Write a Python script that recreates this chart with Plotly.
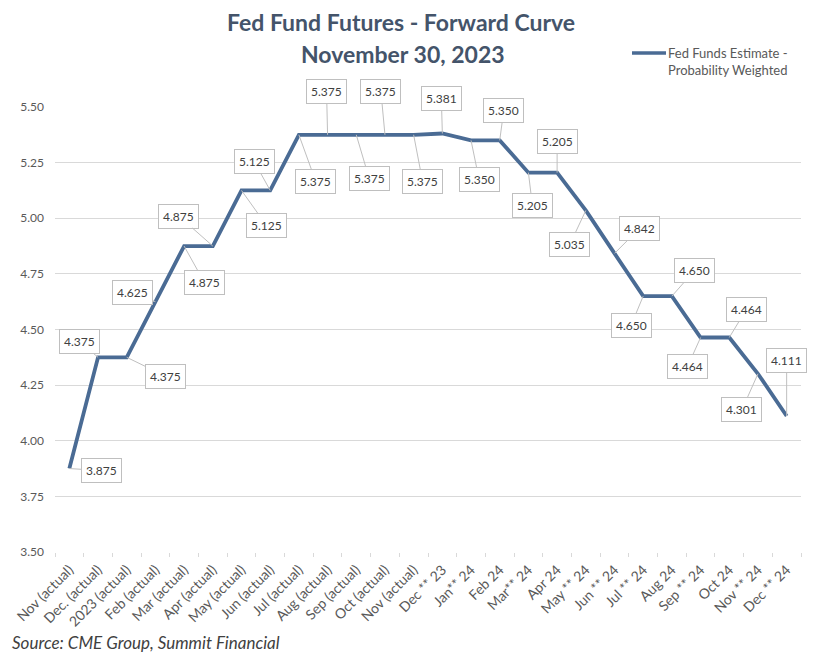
import plotly.graph_objects as go

categories = ["Nov (actual)", "Dec. (actual)", "2023 (actual)", "Feb (actual)", "Mar (actual)",
              "Apr (actual)", "May (actual)", "Jun (actual)", "Jul (actual)", "Aug (actual)",
              "Sep (actual)", "Oct (actual)", "Nov (actual)", "Dec ** 23", "Jan** 24", "Feb 24",
              "Mar** 24", "Apr 24", "May ** 24", "Jun ** 24", "Jul ** 24", "Aug 24", "Sep ** 24",
              "Oct 24", "Nov ** 24", "Dec ** 24"]
values = [3.875, 4.375, 4.375, 4.625, 4.875, 4.875, 5.125, 5.125, 5.375, 5.375,
          5.375, 5.375, 5.375, 5.381, 5.350, 5.350, 5.205, 5.205, 5.035, 4.842,
          4.650, 4.650, 4.464, 4.464, 4.301, 4.111]
y_ticks = [3.50, 3.75, 4.00, 4.25, 4.50, 4.75, 5.00, 5.25, 5.50]

# label box offsets (pixels) relative to each point
label_dx = [32, -19, 39, -23, 20, -34, 25, -16, 17, -1, 13, -4, 9, -1, 8, 4, 4, 0, -16, 25, -12, 23, -13, 17, -16, 0]
label_dy = [2, -16, 19, -9, 36, -30, 35, -29, 47, -43, 44, -43, 47, -35, 39, -30, 33, -31, 34, -25, 29, -26, 29, -28, 36, -56]

FONT = "Lato"
LINE_COLOR = "#4a6b94"
x_idx = list(range(len(categories)))

fig = go.Figure()
fig.add_trace(go.Scatter(
    x=x_idx, y=values, mode="lines",
    line=dict(color=LINE_COLOR, width=3.8),
    name="Fed Funds Estimate - Probability Weighted",
    showlegend=False, hoverinfo="skip",
))

annotations = []
for i, v in enumerate(values):
    annotations.append(dict(
        x=i, y=v, xref="x", yref="y", text=f"{v:.3f}",
        showarrow=True, arrowhead=0, arrowwidth=1, arrowcolor="#bfbfbf",
        ax=label_dx[i], ay=label_dy[i], standoff=0,
        bordercolor="#bfbfbf", borderwidth=1, borderpad=4, bgcolor="white",
        font=dict(family=FONT, size=12, color="#404040"),
    ))

# plot area: x 55..801, y 107..552 (px)
def px_x(X):
    return (X - 55) / 746.0

def px_y(Y):
    return (552 - Y) / 445.0

annotations += [
    dict(xref="paper", yref="paper", x=px_x(401), y=px_y(22), text="<b>Fed Fund Futures - Forward Curve</b>",
         showarrow=False, xanchor="center", yanchor="middle",
         font=dict(family=FONT, size=23, color="#44546a")),
    dict(xref="paper", yref="paper", x=px_x(403), y=px_y(54), text="<b>November 30, 2023</b>",
         showarrow=False, xanchor="center", yanchor="middle",
         font=dict(family=FONT, size=23, color="#44546a")),
    dict(xref="paper", yref="paper", x=px_x(666), y=px_y(53), text="Fed Funds Estimate -",
         showarrow=False, xanchor="left", yanchor="middle",
         font=dict(family=FONT, size=13, color="#595959")),
    dict(xref="paper", yref="paper", x=px_x(666), y=px_y(70), text="Probability Weighted",
         showarrow=False, xanchor="left", yanchor="middle",
         font=dict(family=FONT, size=13, color="#595959")),
    dict(xref="paper", yref="paper", x=px_x(10), y=px_y(642), text="<i>Source: CME Group, Summit Financial</i>",
         showarrow=False, xanchor="left", yanchor="middle",
         font=dict(family=FONT, size=17, color="#404040")),
]

shapes = [dict(type="line", xref="paper", yref="paper",
               x0=px_x(632), x1=px_x(666), y0=px_y(53), y1=px_y(53),
               line=dict(color=LINE_COLOR, width=3.5))]

fig.update_layout(
    width=813, height=657,
    margin=dict(l=55, r=12, t=107, b=105),
    paper_bgcolor="white", plot_bgcolor="white",
    annotations=annotations, shapes=shapes,
    showlegend=False,
    font=dict(family=FONT, color="#595959"),
)
fig.update_xaxes(
    range=[-0.5, len(categories) - 0.5],
    tickvals=x_idx, ticktext=categories, tickangle=-45,
    tickfont=dict(family=FONT, size=14, color="#595959"),
    showgrid=False, zeroline=False, showline=False, ticks="",
    ticklabelstandoff=6,
    minor=dict(tickvals=[i - 0.5 for i in range(len(categories) + 1)], ticks="outside",
               ticklen=4, tickcolor="#d9d9d9", showgrid=False),
)
fig.update_yaxes(
    range=[3.5, 5.5], tickvals=y_ticks, ticktext=[f"{t:.2f}" for t in y_ticks],
    tickfont=dict(family=FONT, size=12, color="#595959"),
    showgrid=True, gridcolor="#d9d9d9", gridwidth=1, zeroline=False, showline=False,
    ticklabelstandoff=10,
)

fig.write_html("out.html")
